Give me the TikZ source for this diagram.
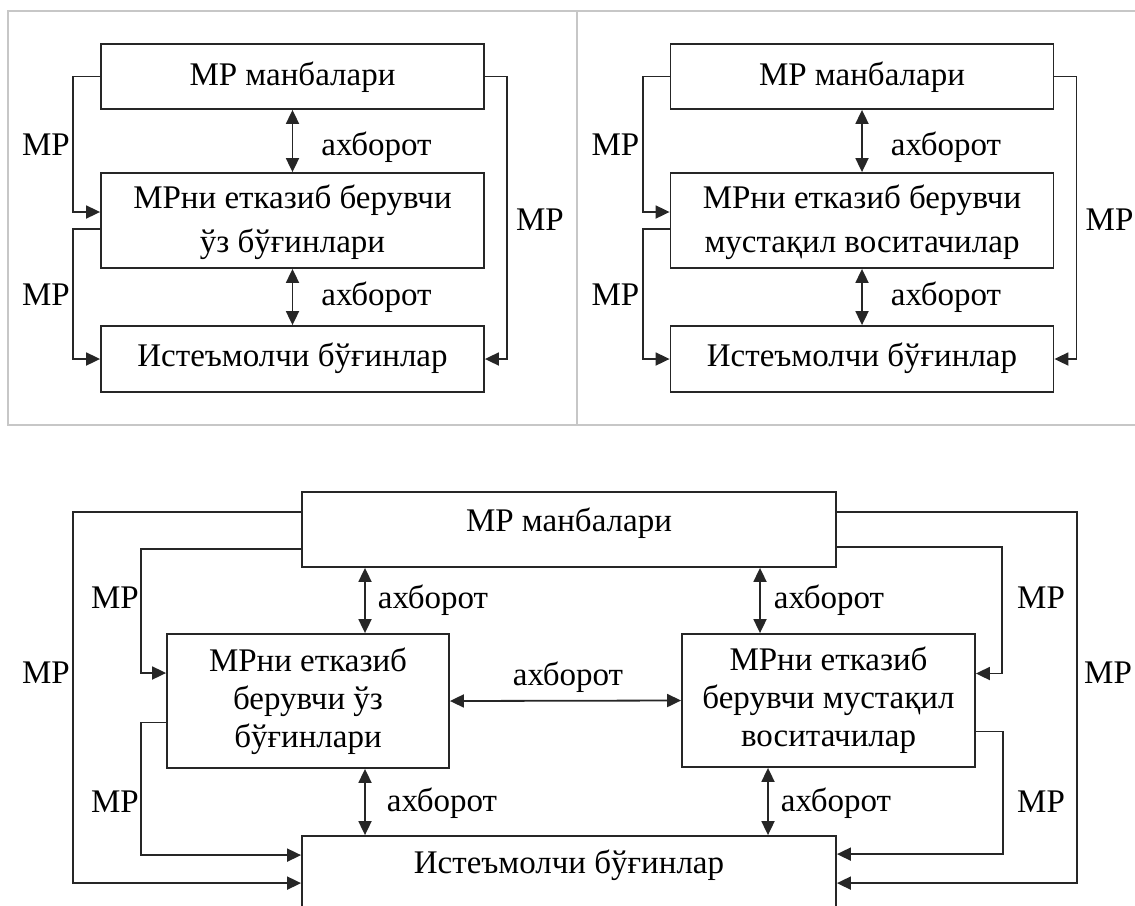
\documentclass[tikz,border=0pt]{standalone}
\usepackage{fontspec}
\setmainfont{Liberation Serif}
\usetikzlibrary{arrows.meta,positioning}
\tikzset{
  blk/.style={rectangle,draw=black!85,line width=0.9pt,inner sep=0pt,align=center},
  frm/.style={black!22,line width=1pt},
  mr/.style={-{Triangle[length=7pt,width=6.5pt]},line width=0.9pt,black!85},
  both/.style={{Triangle[length=7pt,width=6.5pt]}-{Triangle[length=7pt,width=6.5pt]},line width=0.9pt,black!85},
  lab/.style={inner sep=0pt},
}

\begin{document}
\begin{tikzpicture}[x=0.5pt,y=-0.5pt,font=\fontsize{16.5}{19}\selectfont]
  \useasboundingbox (0,0) rectangle (1135,905);
  \clip (0,0) rectangle (1135,905);
  \draw[frm] (1135,11) -- (8,11) -- (8,425) -- (1135,425);
  \draw[frm] (577,11) -- (577,425);
  \foreach \i/\dx/\second in {1/0/ўз бўғинлари, 2/569.5/мустақил воситачилар}{
    \node[blk,minimum width=191.5pt,text height=20.5pt,text depth=12pt,anchor=base] (A\i) at (292.5+\dx,85) {МР манбалари};
    \node[blk,minimum width=191.5pt,minimum height=47.5pt,font=\fontsize{16.5}{22}\selectfont] (B\i) at (292.5+\dx,220.5) {\rule{0pt}{14pt}МРни етказиб берувчи\\\second};
    \node[blk,minimum width=191.5pt,text height=20pt,text depth=13pt,anchor=base] (C\i) at (292.5+\dx,366) {Истеъмолчи бўғинлар};
    \draw[both] (A\i.south) -- (B\i.north);
    \draw[both] (B\i.south) -- (C\i.north);
    \draw[mr] (A\i.west) -- ++(-27,0) |- ([yshift=4.25pt]B\i.west);
    \draw[mr] ([yshift=-4.25pt]B\i.west) -- ++(-27,0) |- (C\i.west);
    \draw[mr] (A\i.east) -- ++(22,0) |- (C\i.east);
    \node[lab] (ia\i) at (376.5+\dx,147) {ахборот};
    \node[lab] (ib\i) at (376.5+\dx,297) {ахборот};
    \node[lab] (ma\i) at (46+\dx,145) {МР};
    \node[lab] (mb\i) at (46+\dx,295) {МР};
    \node[lab] (mc\i) at (540+\dx,220) {МР};
  }

  \node[blk,minimum width=267pt,text height=19.5pt,text depth=18pt,anchor=base] (man) at (569,531) {МР манбалари};
  \node[blk,minimum width=141pt,minimum height=67pt] (own) at (308,701) {МРни етказиб\\берувчи ўз\\бўғинлари};
  \node[blk,minimum width=146.5pt,minimum height=66.5pt] (ind) at (828.5,700.5) {МРни етказиб\\берувчи мустақил\\воситачилар};
  \node[blk,minimum width=267pt,text height=18.5pt,text depth=40pt,anchor=base] (ist) at (569,873) {Истеъмолчи бўғинлар};

  \draw[mr] ([yshift=8.75pt]man.west) -- ++(-228,0) |- ([yshift=-24pt]ist.north west);
  \draw[mr] ([yshift=-9.75pt]man.west) -- ++(-160,0) |- ([yshift=14pt]own.west);
  \draw[mr] ([yshift=-10.75pt]own.west) -- ++(-25,0) |- ([yshift=-10pt]ist.north west);
  \draw[mr] ([yshift=8.75pt]man.east) -- ++(240,0) |- ([yshift=-24pt]ist.north east);
  \draw[mr] ([yshift=-8.75pt]man.east) -- ++(165,0) |- ([yshift=13.5pt]ind.east);
  \draw[mr] ([yshift=-15.5pt]ind.east) -- ++(27,0) |- ([yshift=-9.5pt]ist.north east);

  \draw[both] ([xshift=28.5pt]own.north) -- ([xshift=28.5pt]own.north |- man.south);
  \draw[both] ([xshift=28.5pt]own.south) -- ([xshift=28.5pt]own.south |- ist.north);
  \draw[both] ([xshift=-34.25pt]ind.north) -- ([xshift=-34.25pt]ind.north |- man.south);
  \draw[both] ([xshift=-30.25pt]ind.south) -- ([xshift=-30.25pt]ind.south |- ist.north);
  \draw[both] (own.east) -- (ind.west);

  \node[lab] (ia) at (433,600) {ахборот};
  \node[lab] (ib) at (442,803) {ахборот};
  \node[lab] (ic) at (829,600) {ахборот};
  \node[lab] (id) at (836,803) {ахборот};
  \node[lab] (ie) at (568,677) {ахборот};
  \node[lab] (ma) at (115,598) {МР};
  \node[lab] (mb) at (115,802) {МР};
  \node[lab] (mc) at (46,673) {МР};
  \node[lab] (md) at (1041,598) {МР};
  \node[lab] (me) at (1041,802) {МР};
  \node[lab] (mf) at (1108,673) {МР};
\end{tikzpicture}
\end{document}
